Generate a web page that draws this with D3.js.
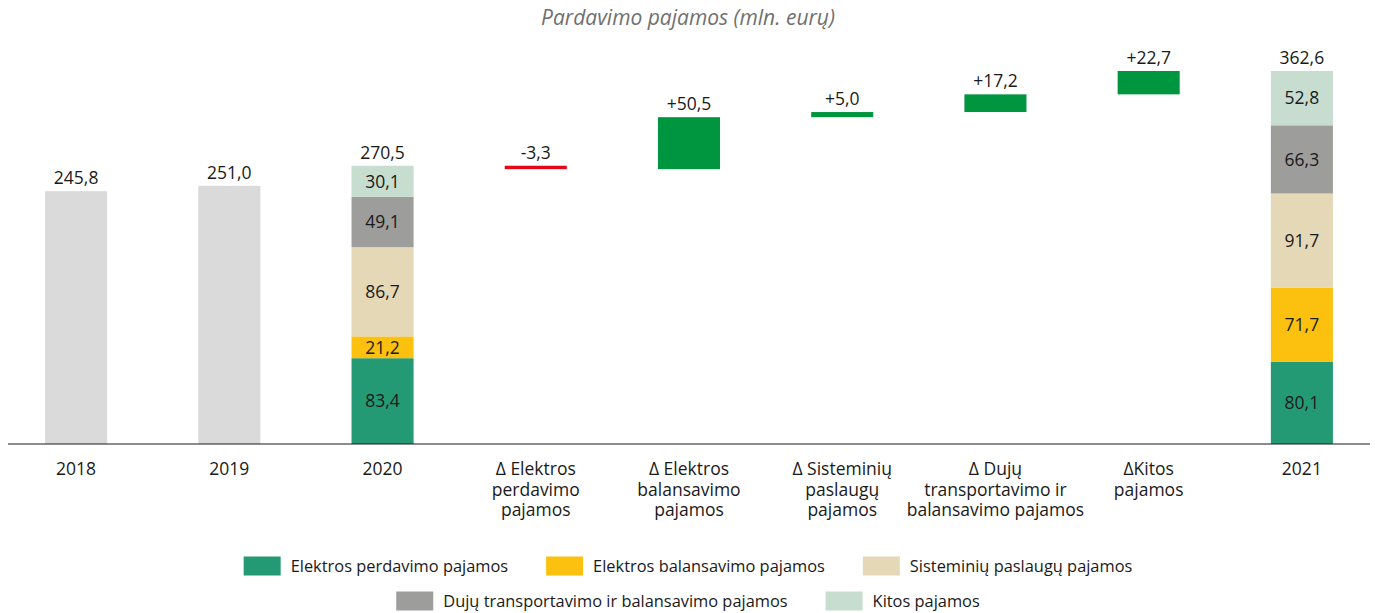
<!DOCTYPE html>
<html>
<head>
<meta charset="utf-8">
<script src="https://cdn.jsdelivr.net/npm/d3@7"></script>
<style>
  html, body { margin: 0; padding: 0; background: #fff; }
  svg text { font-family: "Open Sans", "Lato", sans-serif; }
</style>
</head>
<body>
<svg id="chart" width="1375" height="613"></svg>
<script>
// Categories along the x axis (multi-line labels)
const categories = [
  ["2018"],
  ["2019"],
  ["2020"],
  ["Δ Elektros", "perdavimo", "pajamos"],
  ["Δ Elektros", "balansavimo", "pajamos"],
  ["Δ Sisteminių", "paslaugų", "pajamos"],
  ["Δ Dujų", "transportavimo ir", "balansavimo pajamos"],
  ["ΔKitos", "pajamos"],
  ["2021"]
];

// Revenue components (stack order, bottom to top)
const seriesNames = [
  "Elektros perdavimo pajamos",
  "Elektros balansavimo pajamos",
  "Sisteminių paslaugų pajamos",
  "Dujų transportavimo ir balansavimo pajamos",
  "Kitos pajamos"
];
const seriesColors = ["#239a74", "#fcc10f", "#e4d8b6", "#9d9d9c", "#c6ddd0"];

// Totals for earlier years (single bars)
const plainTotals = [245.8, 251.0];
const plainLabels = ["245,8", "251,0"];

// Stacked years
const values2020 = [83.4, 21.2, 86.7, 49.1, 30.1];
const labels2020 = ["83,4", "21,2", "86,7", "49,1", "30,1"];
const total2020 = 270.5;
const totalLabel2020 = "270,5";

const values2021 = [80.1, 71.7, 91.7, 66.3, 52.8];
const labels2021 = ["80,1", "71,7", "91,7", "66,3", "52,8"];
const total2021 = 362.6;
const totalLabel2021 = "362,6";

// Changes between 2020 and 2021
const deltas = [-3.3, 50.5, 5.0, 17.2, 22.7];
const deltaLabels = ["-3,3", "+50,5", "+5,0", "+17,2", "+22,7"];

const title = "Pardavimo pajamos (mln. eurų)";

const svg = d3.select("#chart");
const baseY = 444;

const x = d3.scaleBand()
  .domain(d3.range(categories.length))
  .range([-0.5, 1378.5])
  .paddingInner(0.595)
  .paddingOuter(0.2975);

const y = d3.scaleLinear().domain([0, 362.6]).range([baseY, 71]);

const bw = x.bandwidth();
const labelFont = 17.5;

function valueLabel(cx, top, text) {
  svg.append("text")
    .attr("x", cx).attr("y", top - 7)
    .attr("text-anchor", "middle")
    .attr("font-size", labelFont)
    .attr("fill", "#1a1a1a")
    .text(text);
}

// Title
svg.append("text")
  .attr("x", 688).attr("y", 25)
  .attr("text-anchor", "middle")
  .attr("font-size", 21)
  .attr("font-style", "italic")
  .attr("fill", "#707070")
  .text(title);

// 2018, 2019 plain bars
plainTotals.forEach((v, i) => {
  svg.append("rect")
    .attr("x", x(i)).attr("width", bw)
    .attr("y", y(v)).attr("height", y(0) - y(v))
    .attr("fill", "#dadada");
  valueLabel(x(i) + bw / 2, y(v), plainLabels[i]);
});

// Stacked bars
function stackedBar(idx, vals, labs, total, totalLab) {
  let cum = 0;
  vals.forEach((v, k) => {
    const y0 = y(cum), y1 = y(cum + v);
    svg.append("rect")
      .attr("x", x(idx)).attr("width", bw)
      .attr("y", y1).attr("height", y0 - y1)
      .attr("fill", seriesColors[k]);
    svg.append("text")
      .attr("x", x(idx) + bw / 2).attr("y", (y0 + y1) / 2)
      .attr("dy", "0.36em")
      .attr("text-anchor", "middle")
      .attr("font-size", labelFont)
      .attr("fill", "#1a1a1a")
      .text(labs[k]);
    cum += v;
  });
  valueLabel(x(idx) + bw / 2, y(total), totalLab);
}
stackedBar(2, values2020, labels2020, total2020, totalLabel2020);
stackedBar(8, values2021, labels2021, total2021, totalLabel2021);

// Waterfall changes
let running = total2020;
deltas.forEach((d, k) => {
  const idx = 3 + k;
  const a = running, b = running + d;
  const top = y(Math.max(a, b)), bot = y(Math.min(a, b));
  svg.append("rect")
    .attr("x", x(idx)).attr("width", bw)
    .attr("y", top).attr("height", bot - top)
    .attr("fill", d < 0 ? "#e30618" : "#00963f");
  valueLabel(x(idx) + bw / 2, top, deltaLabels[k]);
  running = b;
});

// Baseline axis
svg.append("line")
  .attr("x1", 8).attr("x2", 1370)
  .attr("y1", baseY).attr("y2", baseY)
  .attr("stroke", "#1a1a1a").attr("stroke-width", 1.2);

// Category labels
categories.forEach((lines, i) => {
  const t = svg.append("text")
    .attr("x", x(i) + bw / 2).attr("y", 475)
    .attr("text-anchor", "middle")
    .attr("font-size", labelFont)
    .attr("fill", "#1a1a1a");
  lines.forEach((ln, j) => {
    t.append("tspan").attr("x", x(i) + bw / 2).attr("dy", j === 0 ? 0 : 20.5).text(ln);
  });
});

// Legend (two centered rows)
const legendRows = [[0, 1, 2], [3, 4]];
const rowY = [566, 601];
const swW = 37, swH = 19, gapText = 10, gapItem = 38;
legendRows.forEach((row, r) => {
  const g = svg.append("g");
  let cx = 0;
  row.forEach(k => {
    g.append("rect")
      .attr("x", cx).attr("y", rowY[r] - swH / 2)
      .attr("width", swW).attr("height", swH)
      .attr("fill", seriesColors[k]);
    const t = g.append("text")
      .attr("x", cx + swW + gapText).attr("y", rowY[r])
      .attr("dy", "0.36em")
      .attr("font-size", 16.4)
      .attr("fill", "#1a1a1a")
      .text(seriesNames[k]);
    cx += swW + gapText + t.node().getComputedTextLength() + gapItem;
  });
  const width = cx - gapItem;
  g.attr("transform", `translate(${688 - width / 2},0)`);
});
</script>
</body>
</html>
